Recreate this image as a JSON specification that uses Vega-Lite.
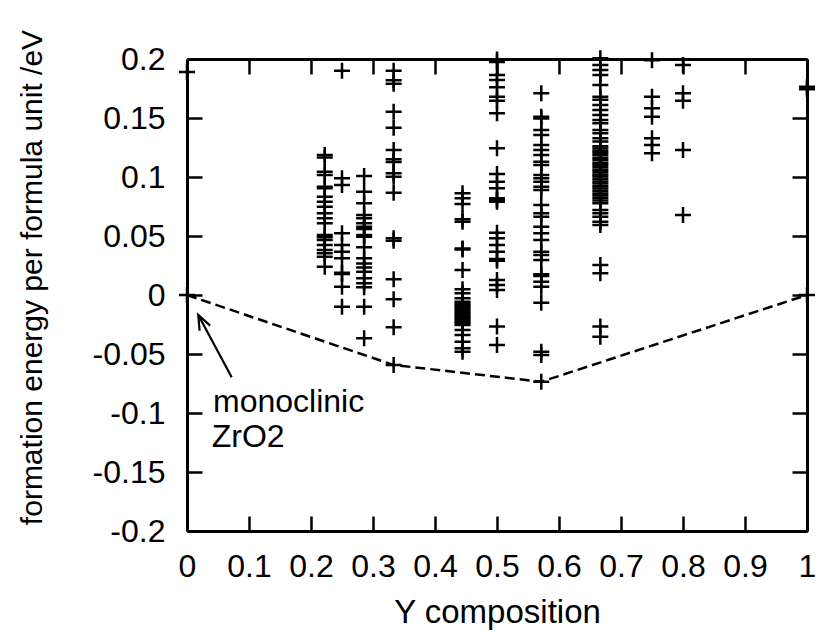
{
  "$schema": "https://vega.github.io/schema/vega-lite/v6.json",
  "width": 620,
  "height": 472,
  "autosize": {"type": "none"},
  "padding": {"left": 187, "top": 59, "right": 14, "bottom": 101},
  "background": "white",
  "config": {
    "font": "Liberation Sans",
    "view": {"stroke": null},
    "axis": {
      "grid": false,
      "domainColor": "black",
      "domainWidth": 3,
      "tickColor": "black",
      "tickWidth": 2.5,
      "tickSize": -15,
      "labelColor": "black",
      "titleColor": "black",
      "labelFont": "Liberation Sans",
      "titleFont": "Liberation Sans",
      "titleFontWeight": "normal",
      "labelFontSize": 32,
      "titleFontSize": 30
    }
  },
  "datasets": {
    "pts": [
      {"x": 0, "e": 0.189}, {"x": 0, "e": 0},
      {"x": 0.2222, "e": 0.1186}, {"x": 0.2222, "e": 0.1165}, {"x": 0.2222, "e": 0.1045}, {"x": 0.2222, "e": 0.1017}, {"x": 0.2222, "e": 0.0918}, {"x": 0.2222, "e": 0.0905}, {"x": 0.2222, "e": 0.0833}, {"x": 0.2222, "e": 0.079}, {"x": 0.2222, "e": 0.0748}, {"x": 0.2222, "e": 0.0692}, {"x": 0.2222, "e": 0.065}, {"x": 0.2222, "e": 0.0607}, {"x": 0.2222, "e": 0.0508}, {"x": 0.2222, "e": 0.0489}, {"x": 0.2222, "e": 0.0466}, {"x": 0.2222, "e": 0.0424}, {"x": 0.2222, "e": 0.0381}, {"x": 0.2222, "e": 0.0353}, {"x": 0.2222, "e": 0.0325}, {"x": 0.2222, "e": 0.024},
      {"x": 0.25, "e": 0.19}, {"x": 0.25, "e": 0.0989}, {"x": 0.25, "e": 0.0932}, {"x": 0.25, "e": 0.0523}, {"x": 0.25, "e": 0.0424}, {"x": 0.25, "e": 0.0367}, {"x": 0.25, "e": 0.0311}, {"x": 0.25, "e": 0.0189}, {"x": 0.25, "e": 0.0178}, {"x": 0.25, "e": 0.007}, {"x": 0.25, "e": -0.0099},
      {"x": 0.2857, "e": 0.1008}, {"x": 0.2857, "e": 0.0876}, {"x": 0.2857, "e": 0.0777}, {"x": 0.2857, "e": 0.0678}, {"x": 0.2857, "e": 0.065}, {"x": 0.2857, "e": 0.0607}, {"x": 0.2857, "e": 0.0579}, {"x": 0.2857, "e": 0.056}, {"x": 0.2857, "e": 0.0508}, {"x": 0.2857, "e": 0.0494}, {"x": 0.2857, "e": 0.0404}, {"x": 0.2857, "e": 0.0311}, {"x": 0.2857, "e": 0.0268}, {"x": 0.2857, "e": 0.0234}, {"x": 0.2857, "e": 0.0198}, {"x": 0.2857, "e": 0.0141}, {"x": 0.2857, "e": 0.0099}, {"x": 0.2857, "e": 0.0065}, {"x": 0.2857, "e": -0.0099}, {"x": 0.2857, "e": -0.0367},
      {"x": 0.3333, "e": 0.19}, {"x": 0.3333, "e": 0.182}, {"x": 0.3333, "e": 0.179}, {"x": 0.3333, "e": 0.1554}, {"x": 0.3333, "e": 0.1418}, {"x": 0.3333, "e": 0.1229}, {"x": 0.3333, "e": 0.115}, {"x": 0.3333, "e": 0.1128}, {"x": 0.3333, "e": 0.1031}, {"x": 0.3333, "e": 0.1003}, {"x": 0.3333, "e": 0.0867}, {"x": 0.3333, "e": 0.048}, {"x": 0.3333, "e": 0.046}, {"x": 0.3333, "e": 0.0133}, {"x": 0.3333, "e": -0.0037}, {"x": 0.3333, "e": -0.0274}, {"x": 0.3333, "e": -0.0593},
      {"x": 0.4444, "e": 0.0862}, {"x": 0.4444, "e": 0.0819}, {"x": 0.4444, "e": 0.0771}, {"x": 0.4444, "e": 0.0641}, {"x": 0.4444, "e": 0.0621}, {"x": 0.4444, "e": 0.0395}, {"x": 0.4444, "e": 0.0385}, {"x": 0.4444, "e": 0.0212}, {"x": 0.4444, "e": 0.0048}, {"x": 0.4444, "e": 0.0014}, {"x": 0.4444, "e": -0.0028}, {"x": 0.4444, "e": -0.0057}, {"x": 0.4444, "e": -0.0072}, {"x": 0.4444, "e": -0.0085}, {"x": 0.4444, "e": -0.01}, {"x": 0.4444, "e": -0.0113}, {"x": 0.4444, "e": -0.0128}, {"x": 0.4444, "e": -0.0141}, {"x": 0.4444, "e": -0.0155}, {"x": 0.4444, "e": -0.017}, {"x": 0.4444, "e": -0.0184}, {"x": 0.4444, "e": -0.0198}, {"x": 0.4444, "e": -0.0212}, {"x": 0.4444, "e": -0.0226}, {"x": 0.4444, "e": -0.024}, {"x": 0.4444, "e": -0.0254}, {"x": 0.4444, "e": -0.0297}, {"x": 0.4444, "e": -0.0339}, {"x": 0.4444, "e": -0.0396}, {"x": 0.4444, "e": -0.0452}, {"x": 0.4444, "e": -0.048},
      {"x": 0.5, "e": 0.1995}, {"x": 0.5, "e": 0.1975}, {"x": 0.5, "e": 0.1864}, {"x": 0.5, "e": 0.1822}, {"x": 0.5, "e": 0.176}, {"x": 0.5, "e": 0.168}, {"x": 0.5, "e": 0.1647}, {"x": 0.5, "e": 0.154}, {"x": 0.5, "e": 0.1243}, {"x": 0.5, "e": 0.1025}, {"x": 0.5, "e": 0.096}, {"x": 0.5, "e": 0.0904}, {"x": 0.5, "e": 0.0819}, {"x": 0.5, "e": 0.0805}, {"x": 0.5, "e": 0.079}, {"x": 0.5, "e": 0.0528}, {"x": 0.5, "e": 0.048}, {"x": 0.5, "e": 0.0424}, {"x": 0.5, "e": 0.0367}, {"x": 0.5, "e": 0.0305}, {"x": 0.5, "e": 0.029}, {"x": 0.5, "e": 0.0127}, {"x": 0.5, "e": 0.0085}, {"x": 0.5, "e": 0.0042}, {"x": 0.5, "e": -0.0268}, {"x": 0.5, "e": -0.0424},
      {"x": 0.5714, "e": 0.1709}, {"x": 0.5714, "e": 0.1511}, {"x": 0.5714, "e": 0.1495}, {"x": 0.5714, "e": 0.1398}, {"x": 0.5714, "e": 0.1356}, {"x": 0.5714, "e": 0.1271}, {"x": 0.5714, "e": 0.1229}, {"x": 0.5714, "e": 0.1186}, {"x": 0.5714, "e": 0.113}, {"x": 0.5714, "e": 0.1102}, {"x": 0.5714, "e": 0.1017}, {"x": 0.5714, "e": 0.0989}, {"x": 0.5714, "e": 0.096}, {"x": 0.5714, "e": 0.0918}, {"x": 0.5714, "e": 0.089}, {"x": 0.5714, "e": 0.0763}, {"x": 0.5714, "e": 0.0692}, {"x": 0.5714, "e": 0.0664}, {"x": 0.5714, "e": 0.0579}, {"x": 0.5714, "e": 0.0523}, {"x": 0.5714, "e": 0.0466}, {"x": 0.5714, "e": 0.0367}, {"x": 0.5714, "e": 0.0339}, {"x": 0.5714, "e": 0.0297}, {"x": 0.5714, "e": 0.0175}, {"x": 0.5714, "e": 0.0162}, {"x": 0.5714, "e": 0.0113}, {"x": 0.5714, "e": 0.007}, {"x": 0.5714, "e": -0.0065}, {"x": 0.5714, "e": -0.048}, {"x": 0.5714, "e": -0.0508}, {"x": 0.5714, "e": -0.0735},
      {"x": 0.6667, "e": 0.2006}, {"x": 0.6667, "e": 0.1949}, {"x": 0.6667, "e": 0.1907}, {"x": 0.6667, "e": 0.1864}, {"x": 0.6667, "e": 0.178}, {"x": 0.6667, "e": 0.168}, {"x": 0.6667, "e": 0.1655}, {"x": 0.6667, "e": 0.161}, {"x": 0.6667, "e": 0.1568}, {"x": 0.6667, "e": 0.1525}, {"x": 0.6667, "e": 0.1483}, {"x": 0.6667, "e": 0.1455}, {"x": 0.6667, "e": 0.1398}, {"x": 0.6667, "e": 0.137}, {"x": 0.6667, "e": 0.1328}, {"x": 0.6667, "e": 0.13}, {"x": 0.6667, "e": 0.126}, {"x": 0.6667, "e": 0.1242}, {"x": 0.6667, "e": 0.1221}, {"x": 0.6667, "e": 0.1203}, {"x": 0.6667, "e": 0.1185}, {"x": 0.6667, "e": 0.1162}, {"x": 0.6667, "e": 0.1144}, {"x": 0.6667, "e": 0.1121}, {"x": 0.6667, "e": 0.1103}, {"x": 0.6667, "e": 0.1082}, {"x": 0.6667, "e": 0.1061}, {"x": 0.6667, "e": 0.1043}, {"x": 0.6667, "e": 0.1022}, {"x": 0.6667, "e": 0.1004}, {"x": 0.6667, "e": 0.0983}, {"x": 0.6667, "e": 0.0962}, {"x": 0.6667, "e": 0.0944}, {"x": 0.6667, "e": 0.0921}, {"x": 0.6667, "e": 0.0903}, {"x": 0.6667, "e": 0.0882}, {"x": 0.6667, "e": 0.0861}, {"x": 0.6667, "e": 0.0843}, {"x": 0.6667, "e": 0.0822}, {"x": 0.6667, "e": 0.0801}, {"x": 0.6667, "e": 0.0777}, {"x": 0.6667, "e": 0.072}, {"x": 0.6667, "e": 0.0692}, {"x": 0.6667, "e": 0.0664}, {"x": 0.6667, "e": 0.0621}, {"x": 0.6667, "e": 0.0593}, {"x": 0.6667, "e": 0.0254}, {"x": 0.6667, "e": 0.0184}, {"x": 0.6667, "e": -0.0268}, {"x": 0.6667, "e": -0.0353},
      {"x": 0.75, "e": 0.199}, {"x": 0.75, "e": 0.168}, {"x": 0.75, "e": 0.1582}, {"x": 0.75, "e": 0.1511}, {"x": 0.75, "e": 0.1328}, {"x": 0.75, "e": 0.1271}, {"x": 0.75, "e": 0.1201},
      {"x": 0.8, "e": 0.1949}, {"x": 0.8, "e": 0.1709}, {"x": 0.8, "e": 0.1647}, {"x": 0.8, "e": 0.1229}, {"x": 0.8, "e": 0.0678},
      {"x": 1, "e": 0.1765}, {"x": 1, "e": 0.1743}, {"x": 1, "e": 0}
    ],
    "hull": [
      {"x": 0, "e": 0}, {"x": 0.3333, "e": -0.0593}, {"x": 0.5714, "e": -0.0735}, {"x": 1, "e": 0}
    ],
    "arrow": [
      {"seg": "shaft", "o": 0, "x": 0.0182, "e": -0.0169},
      {"seg": "shaft", "o": 1, "x": 0.0721, "e": -0.0697},
      {"seg": "head", "o": 0, "x": 0.0203, "e": -0.0303},
      {"seg": "head", "o": 1, "x": 0.0182, "e": -0.0169},
      {"seg": "head", "o": 2, "x": 0.0374, "e": -0.026}
    ],
    "notes": [
      {"t": "monoclinic", "x": 0.0419, "e": -0.0989},
      {"t": "ZrO2", "x": 0.0398, "e": -0.1286}
    ]
  },
  "layer": [
    {
      "data": {"name": "pts"},
      "mark": {"type": "point", "shape": "M-1,0L1,0M0,-1L0,1", "filled": false, "stroke": "black", "strokeWidth": 2.5, "size": 256, "opacity": 1},
      "encoding": {
        "x": {
          "field": "x", "type": "quantitative",
          "scale": {"domain": [0, 1], "nice": false, "zero": false},
          "axis": {
            "orient": "bottom",
            "values": [0, 0.1, 0.2, 0.3, 0.4, 0.5, 0.6, 0.7, 0.8, 0.9, 1],
            "format": "~g",
            "labelPadding": 35,
            "labelFlush": false,
            "title": "Y composition",
            "titleY": 91,
            "titleBaseline": "alphabetic",
            "titleFontSize": 33
          }
        },
        "y": {
          "field": "e", "type": "quantitative",
          "scale": {"domain": [-0.2, 0.2], "nice": false, "zero": false},
          "axis": {
            "orient": "left",
            "values": [-0.2, -0.15, -0.1, -0.05, 0, 0.05, 0.1, 0.15, 0.2],
            "labelExpr": "datum.value < 0 ? '-' + format(-datum.value, '~g') : format(datum.value, '~g')",
            "labelPadding": 37,
            "labelFlush": false,
            "title": "formation energy per formula unit /eV",
            "titleX": -146,
            "titleY": 218,
            "titleBaseline": "alphabetic"
          }
        }
      }
    },
    {
      "data": {"name": "hull"},
      "mark": {"type": "line", "strokeDash": [10, 5], "strokeWidth": 2.5, "color": "black"},
      "encoding": {
        "x": {
          "field": "x", "type": "quantitative",
          "axis": {"orient": "top", "values": [0, 0.1, 0.2, 0.3, 0.4, 0.5, 0.6, 0.7, 0.8, 0.9, 1], "labels": false, "title": null}
        },
        "y": {
          "field": "e", "type": "quantitative",
          "axis": {"orient": "right", "values": [-0.2, -0.15, -0.1, -0.05, 0, 0.05, 0.1, 0.15, 0.2], "labels": false, "title": null}
        }
      }
    },
    {
      "data": {"name": "arrow"},
      "mark": {"type": "line", "color": "black", "strokeWidth": 2.2},
      "encoding": {
        "x": {"field": "x", "type": "quantitative", "axis": null},
        "y": {"field": "e", "type": "quantitative", "axis": null},
        "detail": {"field": "seg"},
        "order": {"field": "o"}
      }
    },
    {
      "data": {"name": "notes"},
      "mark": {"type": "text", "align": "left", "baseline": "alphabetic", "fontSize": 32, "font": "Liberation Sans", "color": "black"},
      "encoding": {
        "x": {"field": "x", "type": "quantitative", "axis": null},
        "y": {"field": "e", "type": "quantitative", "axis": null},
        "text": {"field": "t"}
      }
    }
  ],
  "resolve": {"axis": {"x": "independent", "y": "independent"}}
}
